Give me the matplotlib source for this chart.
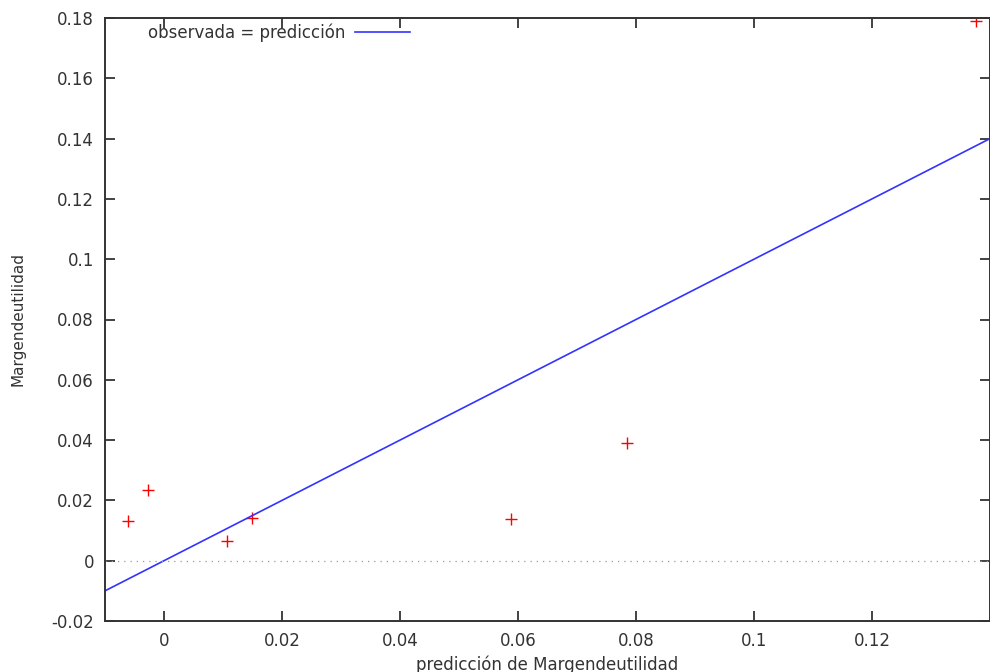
import matplotlib
matplotlib.use("Agg")
import matplotlib.pyplot as plt

# fitted vs observed values
pred = [-0.0061, -0.0027, 0.0107, 0.0149, 0.0588, 0.0785, 0.1376]
obs = [0.0133, 0.0236, 0.0066, 0.0143, 0.0139, 0.0392, 0.1790]
x_ticks = [0, 0.02, 0.04, 0.06, 0.08, 0.1, 0.12]
y_ticks = [-0.02, 0, 0.02, 0.04, 0.06, 0.08, 0.1, 0.12, 0.14, 0.16, 0.18]
x_range = [-0.01, 0.14]
y_range = [-0.02, 0.18]

plt.rcParams["font.family"] = "DejaVu Sans"
plt.rcParams["font.size"] = 12

fig = plt.figure(figsize=(9.9, 6.72), dpi=100)
ax = fig.add_axes([105 / 990, 1 - 621 / 672, 885 / 990, 603 / 672])

ax.plot(pred, obs, "+", color="red", ms=9, mew=1.0, linestyle="none")
ax.plot(x_range, x_range, color="#3333ff", lw=1.2, label="observada = predicción")
ax.axhline(0, color="#999999", lw=0.9, ls=(0, (1, 4)))

ax.set_xlim(*x_range)
ax.set_ylim(*y_range)
ax.set_xticks(x_ticks)
ax.set_xticklabels([f"{v:g}" for v in x_ticks])
ax.set_yticks(y_ticks)
ax.set_yticklabels([f"{v:g}" for v in y_ticks])
ax.tick_params(direction="in", length=7, width=1.2, top=True, right=True,
               colors="#222222", labelcolor="#333333", pad=8)
for s in ax.spines.values():
    s.set_linewidth(1.4)
    s.set_color("#333333")

ax.set_xlabel("predicción de Margendeutilidad", color="#333333", va="center")
ax.xaxis.set_label_coords(0.5, -0.072)
ax.set_ylabel("Margendeutilidad", color="#333333", va="center", fontsize=11)
ax.yaxis.set_label_coords(-0.098, 0.5)

ax.legend(loc="center left", markerfirst=False, frameon=False,
          handlelength=3.3, handletextpad=0.6, borderpad=0, borderaxespad=0,
          bbox_to_anchor=(0.0486, 0.975), labelcolor="#333333")

fig.savefig("out.png", dpi=100)
